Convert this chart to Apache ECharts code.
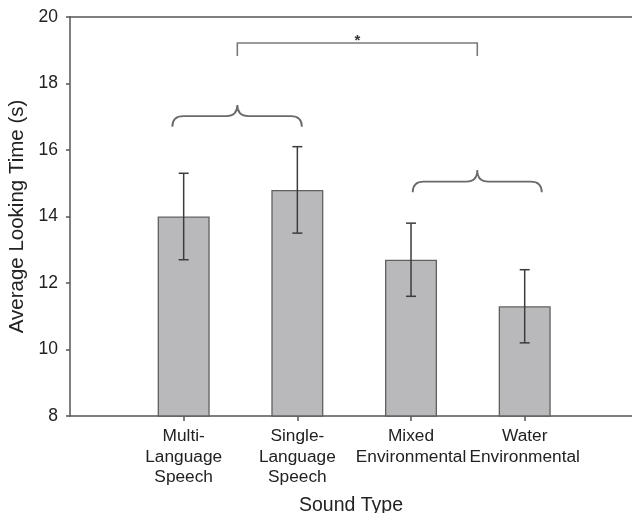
<!DOCTYPE html>
<html>
<head>
<meta charset="utf-8">
<title>Average Looking Time by Sound Type</title>
<script src="https://cdn.jsdelivr.net/npm/echarts@6/dist/echarts.min.js"></script>
<style>
  html, body { margin: 0; padding: 0; background: #fff; }
  #chart { width: 632px; height: 513px; }
</style>
</head>
<body>
<div id="chart"></div>
<script>
// Sound categories, placed at x = 1..4 on the value axis
const categories = [
  'Multi-\nLanguage\nSpeech',
  'Single-\nLanguage\nSpeech',
  'Mixed\nEnvironmental',
  'Water\nEnvironmental'
];
// Mean looking time (s)
const meanLooking = [14.0, 14.8, 12.7, 11.3];
// Error bar extents (s)
const errLow = [12.7, 13.5, 11.6, 10.2];
const errHigh = [15.3, 16.1, 13.8, 12.4];
// Y axis ticks
const yTicks = [8, 10, 12, 14, 16, 18, 20];

// Group braces: [xStart, xPeak, xEnd, yEnds, yBar, yPeak]
const braces = [
  [0.90, 1.472, 2.04, 16.70, 17.02, 17.35],
  [3.015, 3.583, 4.15, 14.73, 15.05, 15.40]
];
// Significance bracket between the two groups: [xLeft, xRight, yTop, yLegEnd]
const sigBracket = [[1.472, 3.583, 19.22, 18.83]];
const sigLabel = '*';

const chart = echarts.init(document.getElementById('chart'), null, { renderer: 'canvas' });

const axisColor = '#555';
const textColor = '#222';
const fontFamily = '"Liberation Sans", Arial, Helvetica, sans-serif';

const barData = meanLooking.map((v, i) => [i + 1, v]);
const errData = meanLooking.map((v, i) => [i + 1, errLow[i], errHigh[i]]);

const option = {
  animation: false,
  backgroundColor: '#fff',
  grid: {
    left: 70, right: 0, top: 17, bottom: 97,
    containLabel: false,
    outerBoundsMode: 'none'
  },
  xAxis: [
    {
      type: 'value',
      min: 0,
      max: 4.944,
      splitLine: { show: false },
      axisLine: { show: true, lineStyle: { color: axisColor, width: 1.5 } },
      axisTick: {
        show: true, length: 5, inside: false,
        customValues: [1, 2, 3, 4],
        lineStyle: { color: axisColor, width: 1.5 }
      },
      axisLabel: {
        customValues: [1, 2, 3, 4],
        formatter: v => categories[Math.round(v) - 1] || '',
        color: textColor,
        fontFamily: fontFamily,
        fontSize: 17.3,
        lineHeight: 20.5,
        margin: 10
      },
      name: 'Sound Type',
      nameLocation: 'middle',
      nameGap: 80,
      nameTextStyle: { color: textColor, fontFamily: fontFamily, fontSize: 19.5 }
    },
    {
      type: 'value',
      position: 'top',
      min: 0,
      max: 4.944,
      splitLine: { show: false },
      axisLine: { show: true, lineStyle: { color: axisColor, width: 1.5 } },
      axisTick: { show: false },
      axisLabel: { show: false }
    }
  ],
  yAxis: {
    type: 'value',
    min: yTicks[0],
    max: yTicks[yTicks.length - 1],
    interval: 2,
    splitLine: { show: false },
    axisLine: { show: true, lineStyle: { color: axisColor, width: 1.5 } },
    axisTick: { show: true, length: 4, inside: false, lineStyle: { color: axisColor, width: 1.5 } },
    axisLabel: {
      color: textColor,
      fontFamily: fontFamily,
      fontSize: 17.5,
      margin: 12
    },
    name: 'Average Looking Time (s)',
    nameLocation: 'middle',
    nameGap: 39,
    nameTextStyle: { color: textColor, fontFamily: fontFamily, fontSize: 20.5 }
  },
  series: [
    {
      type: 'bar',
      data: barData,
      barWidth: 52,
      itemStyle: { color: '#b9b9bb', borderColor: '#606060', borderWidth: 1.3 },
      z: 2
    },
    {
      type: 'custom',
      name: 'error',
      data: errData,
      encode: { x: 0, y: [1, 2] },
      z: 3,
      renderItem: function (params, api) {
        const x = api.value(0);
        const lo = api.coord([x, api.value(1)]);
        const hi = api.coord([x, api.value(2)]);
        const half = 5;
        const style = { stroke: '#3c3c3c', lineWidth: 1.5 };
        return {
          type: 'group',
          children: [
            { type: 'line', shape: { x1: lo[0], y1: lo[1], x2: hi[0], y2: hi[1] }, style: style },
            { type: 'line', shape: { x1: hi[0] - half, y1: hi[1], x2: hi[0] + half, y2: hi[1] }, style: style },
            { type: 'line', shape: { x1: lo[0] - half, y1: lo[1], x2: lo[0] + half, y2: lo[1] }, style: style }
          ]
        };
      }
    },
    {
      type: 'custom',
      name: 'braces',
      data: braces,
      encode: { x: [0, 1, 2], y: [3, 4, 5] },
      z: 3,
      renderItem: function (params, api) {
        const a = api.coord([api.value(0), api.value(3)]);
        const b = api.coord([api.value(0), api.value(4)]);
        const p = api.coord([api.value(1), api.value(5)]);
        const c = api.coord([api.value(2), api.value(3)]);
        const yb = b[1];
        const r = 11;
        const path =
          'M' + a[0] + ',' + a[1] +
          ' Q' + a[0] + ',' + yb + ' ' + (a[0] + r) + ',' + yb +
          ' L' + (p[0] - r) + ',' + yb +
          ' Q' + p[0] + ',' + yb + ' ' + p[0] + ',' + p[1] +
          ' Q' + p[0] + ',' + yb + ' ' + (p[0] + r) + ',' + yb +
          ' L' + (c[0] - r) + ',' + yb +
          ' Q' + c[0] + ',' + yb + ' ' + c[0] + ',' + c[1];
        return {
          type: 'path',
          shape: { pathData: path },
          style: { fill: null, stroke: '#6a6a6a', lineWidth: 1.8 }
        };
      }
    },
    {
      type: 'custom',
      name: 'significance',
      data: sigBracket,
      encode: { x: [0, 1], y: [2, 3] },
      z: 3,
      renderItem: function (params, api) {
        const l = api.coord([api.value(0), api.value(2)]);
        const r = api.coord([api.value(1), api.value(2)]);
        const lEnd = api.coord([api.value(0), api.value(3)]);
        const style = { stroke: '#7a7a7a', lineWidth: 1.6, fill: null };
        return {
          type: 'group',
          children: [
            {
              type: 'polyline',
              shape: { points: [[lEnd[0], lEnd[1]], [l[0], l[1]], [r[0], r[1]], [r[0], lEnd[1]]] },
              style: style
            },
            {
              type: 'text',
              style: {
                text: sigLabel,
                x: (l[0] + r[0]) / 2,
                y: l[1] - 2,
                align: 'center',
                verticalAlign: 'middle',
                fill: '#333',
                font: 'bold 15px ' + fontFamily
              }
            }
          ]
        };
      }
    }
  ]
};

chart.setOption(option);
</script>
</body>
</html>
